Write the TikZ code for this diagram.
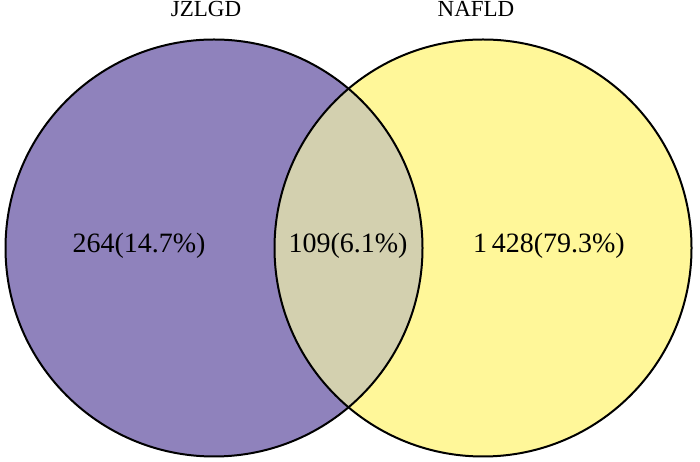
\documentclass[tikz,border=0pt]{standalone}
\usepackage{fontspec}
\setmainfont{Liberation Serif}
\definecolor{setA}{RGB}{143,130,188}
\definecolor{setB}{RGB}{255,247,153}
\definecolor{setAB}{RGB}{211,208,175}
\tikzset{
  setlabel/.style={font=\fontsize{23}{26}\selectfont, inner sep=0pt},
  countlabel/.style={font=\fontsize{28}{32}\selectfont, inner sep=0pt},
  ring/.style={draw=black, line width=2pt}
}
\begin{document}
\begin{tikzpicture}[x=1pt,y=1pt]
\useasboundingbox (0,0) rectangle (700,462);
\def\rad{208.5}
\coordinate (cA) at (214,214);
\coordinate (cB) at (483,214);
\fill[setA] (cA) circle (\rad);
\fill[setB] (cB) circle (\rad);
\begin{scope}
  \clip (cA) circle (\rad);
  \fill[setAB] (cB) circle (\rad);
\end{scope}
\draw[ring] (cA) circle (\rad);
\draw[ring] (cB) circle (\rad);
\node[setlabel] (labA) at (206,453) {JZLGD};
\node[setlabel] (labB) at (476,453) {NAFLD};
\node[countlabel] (nA) at (139,216) {264(14.7\%)};
\node[countlabel] (nAB) at (348,216) {109(6.1\%)};
\node[countlabel] (nB) at (549,216) {1\,428(79.3\%)};
\end{tikzpicture}
\end{document}
